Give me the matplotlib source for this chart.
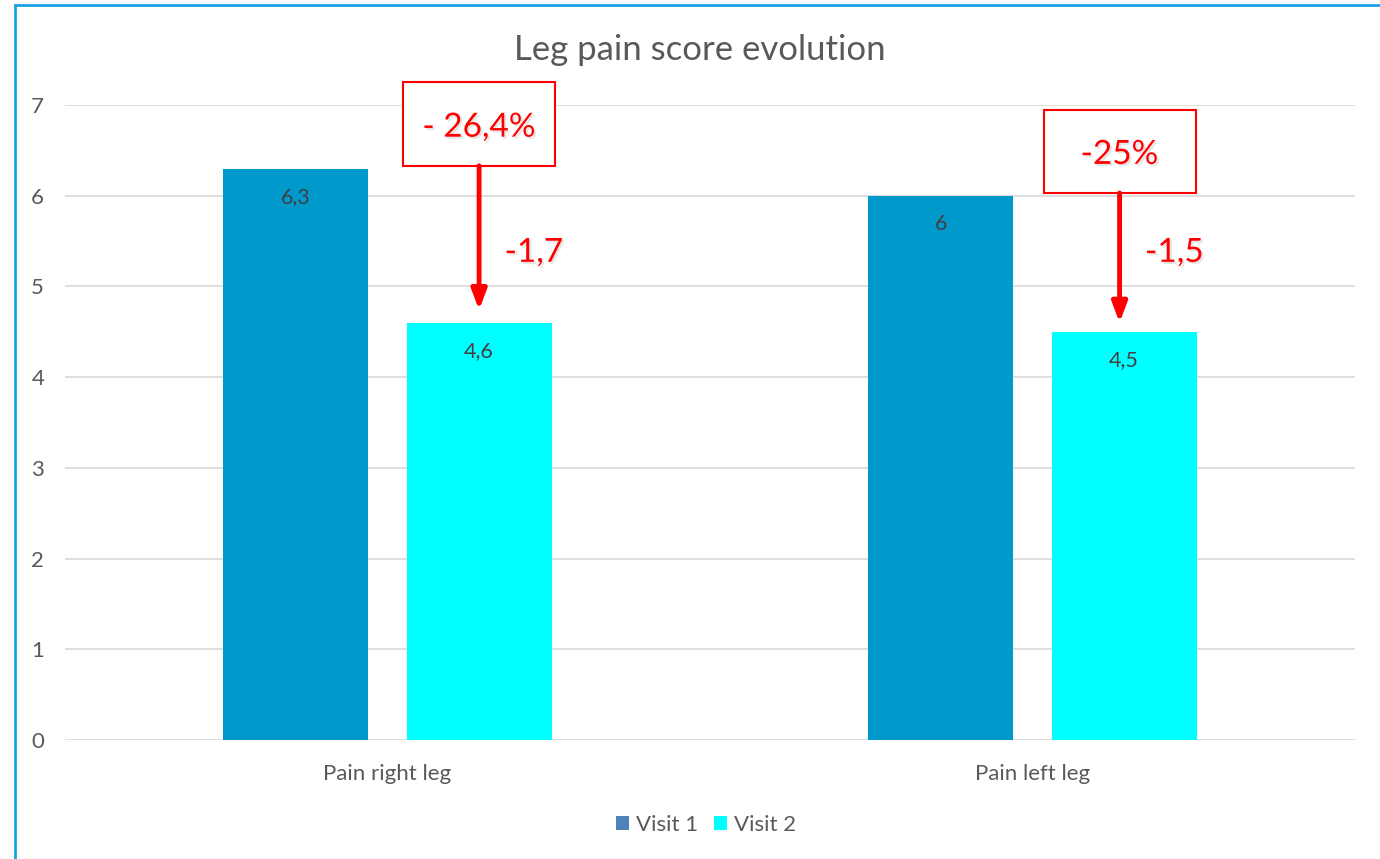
import matplotlib
matplotlib.use("Agg")
import matplotlib.pyplot as plt
from matplotlib.patches import Patch, Rectangle
import matplotlib.patheffects as pe
import numpy as np

plt.rcParams['font.family'] = ['Lato', 'DejaVu Sans']

categories = ["Pain right leg", "Pain left leg"]
series_names = ["Visit 1", "Visit 2"]
visit1 = [6.3, 6.0]
visit2 = [4.6, 4.5]
visit1_labels = ["6,3", "6"]
visit2_labels = ["4,6", "4,5"]
pct_labels = ["- 26,4%", "-25%"]
diff_labels = ["-1,7", "-1,5"]
yticks = [0, 1, 2, 3, 4, 5, 6, 7]

bar_color1 = "#0099CC"
bar_color2 = "#00FFFF"
legend_color1 = "#4F81BD"
text_color = "#595959"
red = "#FF0000"

fig = plt.figure(figsize=(13.8, 8.59), dpi=100)
fig.patches.append(Rectangle((15/1380, -0.1), 1.2, 1 - 5/859 + 0.1, transform=fig.transFigure,
                             fill=False, edgecolor="#1BA1E2", linewidth=2))
ax = fig.add_axes([65/1380, 1-740/859, 1290/1380, (740-105)/859])

x = np.arange(len(categories))
w = 0.225
off = 0.142
ax.bar(x - off, visit1, w, color=bar_color1, zorder=3)
ax.bar(x + off, visit2, w, color=bar_color2, zorder=3)

for i in range(len(categories)):
    ax.text(x[i] - off, visit1[i] - 0.31, visit1_labels[i], ha="center", va="center",
            fontsize=15.5, color="#404040", zorder=4)
    ax.text(x[i] + off, visit2[i] - 0.31, visit2_labels[i], ha="center", va="center",
            fontsize=15.5, color="#404040", zorder=4)

ax.set_xlim(-0.5, 1.5)
ax.set_ylim(0, 7)
ax.set_yticks(yticks)
ax.set_yticklabels([str(t) for t in yticks])
ax.set_xticks(x)
ax.set_xticklabels(categories)
ax.tick_params(axis="both", length=0, labelsize=16, colors=text_color)
ax.tick_params(axis="y", pad=15)
ax.tick_params(axis="x", pad=17)
ax.grid(axis="y", color="#D9D9D9", linewidth=1.2, zorder=0)
for s in ax.spines.values():
    s.set_visible(False)

shadow = [pe.withSimplePatchShadow(offset=(1.5, -1.5), shadow_rgbFace="black", alpha=0.1)]

# annotations
box_centers_y = [6.79, 6.49]
box_x_off = [0.142, 0.135]
box_h = 0.92
box_w = 152/645
arrow_tip = [4.74, 4.60]
for i in range(len(categories)):
    cx = x[i] + box_x_off[i]
    cy = box_centers_y[i]
    ax.add_patch(Rectangle((cx - box_w/2, cy - box_h/2), box_w, box_h, fill=True,
                           facecolor="white", edgecolor=red, linewidth=1.5, zorder=5,
                           clip_on=False))
    ax.text(cx, cy - 0.04, pct_labels[i], ha="center", va="center", fontsize=24, color=red,
            zorder=6, path_effects=shadow)
    ax.annotate("", xy=(cx, arrow_tip[i]), xytext=(cx, cy - box_h/2),
                arrowprops=dict(arrowstyle="-|>,head_width=0.45,head_length=1.2",
                                color=red, lw=3.5, shrinkA=0, shrinkB=0), zorder=6)
    ax.text(cx + 0.085, 5.37, diff_labels[i], ha="center", va="center", fontsize=24,
            color=red, zorder=6, path_effects=shadow)

fig.text(700/1380, 1-50/859, "Leg pain score evolution", ha="center", va="center",
         fontsize=25, color=text_color)

handles = [Patch(facecolor=legend_color1, label=series_names[0]),
           Patch(facecolor=bar_color2, label=series_names[1])]
leg = fig.legend(handles=handles, loc="center", bbox_to_anchor=(706/1380, 1-825/859),
                 ncol=2, frameon=False, fontsize=16, handlelength=0.6, handleheight=0.6,
                 handletextpad=0.3, columnspacing=0.7)
for t in leg.get_texts():
    t.set_color(text_color)

fig.savefig("out.png", dpi=100, facecolor="white")
